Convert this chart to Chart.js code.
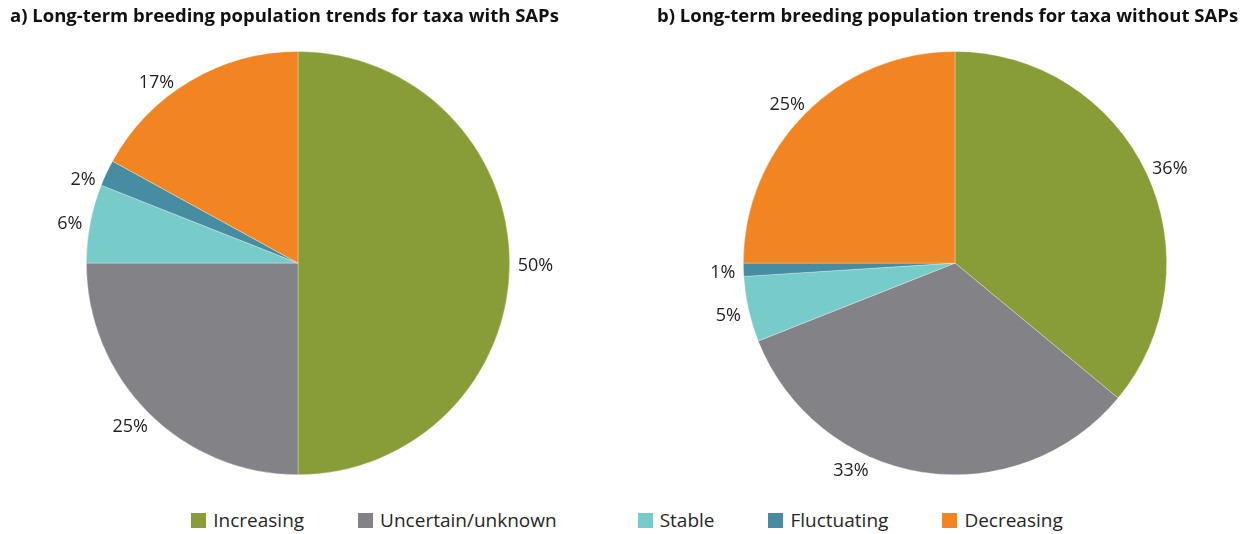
<!DOCTYPE html>
<html>
<head>
<meta charset="utf-8">
<script src="https://cdn.jsdelivr.net/npm/chart.js@4.4.1/dist/chart.umd.min.js"></script>
<style>
    body { margin: 0; background: #fff; font-family: 'Open Sans', sans-serif; }
    #wrap { position: relative; width: 1254px; height: 534px; }
    .box { position: absolute; top: 0; height: 490px; }
    #boxA { left: 10px; width: 576px; }
    #boxB { left: 657px; width: 596px; }
    #legend { position: absolute; left: 0; width: 1254px; top: 507px; display: flex; justify-content: center; gap: 54px; font-size: 19px; color: #262626; }
    #legend span.item { display: flex; align-items: center; white-space: nowrap; }
    #legend span.item:nth-child(2) { margin-right: 27px; }
    #legend i { display: inline-block; width: 15px; height: 15px; margin-right: 7px; }
</style>
</head>
<body>
<div id="wrap">
    <div class="box" id="boxA"><canvas id="chartA"></canvas></div>
    <div class="box" id="boxB"><canvas id="chartB"></canvas></div>
    <div id="legend"></div>
</div>
<script>
// ==================== DATA ====================
const categories = ['Increasing', 'Uncertain/unknown', 'Stable', 'Fluctuating', 'Decreasing'];
const withSAPs = [50, 25, 6, 2, 17];
const withoutSAPs = [36, 33, 5, 1, 25];
const sliceColors = ['#889c38', '#838387', '#77cbc8', '#468da2', '#f28422'];

const titleA = 'a) Long-term breeding population trends for taxa with SAPs';
const titleB = 'b) Long-term breeding population trends for taxa without SAPs';

// ==================== OUTSIDE LABELS ====================
const outsideLabels = {
    id: 'outsideLabels',
    afterDatasetsDraw(chart, args, opts) {
        const ctx = chart.ctx;
        const meta = chart.getDatasetMeta(0);
        const values = chart.data.datasets[0].data;
        const shifts = opts.shifts || {};
        ctx.save();
        ctx.font = '18px "Open Sans"';
        ctx.fillStyle = '#1f1f1f';
        ctx.textAlign = 'center';
        ctx.textBaseline = 'middle';
        meta.data.forEach((arc, i) => {
            const p = arc.getProps(['x', 'y', 'startAngle', 'endAngle', 'outerRadius'], true);
            const mid = (p.startAngle + p.endAngle) / 2 + (shifts[i] || 0) * Math.PI / 180;
            const dx = Math.cos(mid), dy = Math.sin(mid);
            const text = values[i] + '%';
            const w = ctx.measureText(text).width;
            const r = p.outerRadius + 8;
            const cx = p.x + dx * r + dx * w / 2;
            const cy = p.y + dy * r + dy * 8 + 3;
            ctx.fillText(text, cx, cy);
        });
        ctx.restore();
    }
};

// Initialize Pie Chart
function initPieChart(elementId, data, title, shifts) {
    return new Chart(document.getElementById(elementId), {
        type: 'pie',
        data: {
            labels: categories,
            datasets: [{
                data: data,
                backgroundColor: sliceColors,
                borderColor: 'rgba(255, 255, 255, 0.6)',
                borderWidth: 0.5,
                hoverOffset: 0
            }]
        },
        options: {
            responsive: true,
            maintainAspectRatio: false,
            animation: false,
            events: [],
            layout: {
                padding: { top: 0, bottom: 15, left: 0, right: 0 }
            },
            plugins: {
                legend: { display: false },
                tooltip: { enabled: false },
                title: {
                    display: true,
                    text: title,
                    align: 'start',
                    color: '#111',
                    font: { family: 'Open Sans', size: 18.5, weight: 'bold', lineHeight: 1.2 },
                    padding: { top: 6, bottom: 23 }
                },
                outsideLabels: { shifts: shifts }
            }
        },
        plugins: [outsideLabels]
    });
}

initPieChart('chartA', withSAPs, titleA, { 3: -3, 4: -6 });
initPieChart('chartB', withoutSAPs, titleB, { 1: 17 });

// Shared legend
const legend = document.getElementById('legend');
categories.forEach((c, i) => {
    const item = document.createElement('span');
    item.className = 'item';
    item.innerHTML = '<i style="background:' + sliceColors[i] + '"></i>' + c;
    legend.appendChild(item);
});
</script>
</body>
</html>
